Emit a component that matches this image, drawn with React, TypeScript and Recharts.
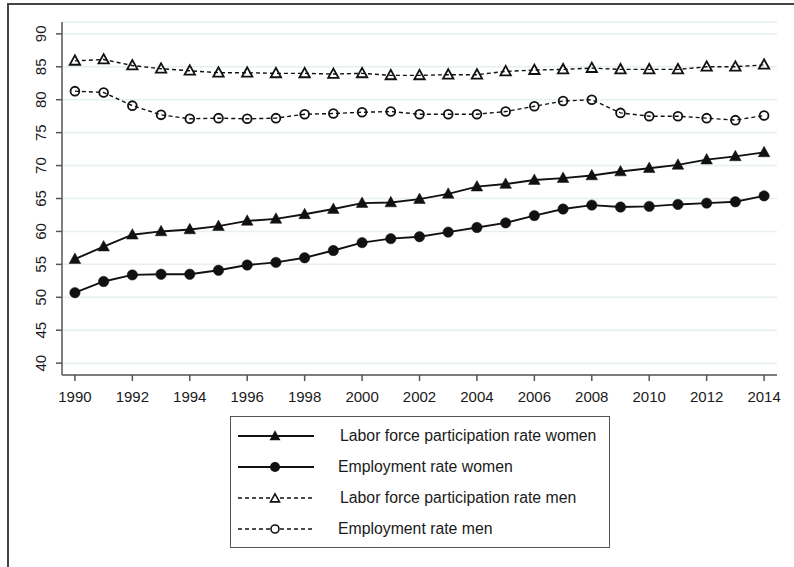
import React from "react";
import { LineChart, Line, XAxis, YAxis, CartesianGrid } from "recharts";

const years = [1990,1991,1992,1993,1994,1995,1996,1997,1998,1999,2000,2001,2002,2003,2004,2005,2006,2007,2008,2009,2010,2011,2012,2013,2014];
const lfpWomen = [55.8,57.7,59.5,60.0,60.3,60.8,61.6,61.9,62.6,63.4,64.3,64.4,64.9,65.7,66.8,67.2,67.8,68.1,68.5,69.1,69.6,70.1,70.9,71.4,72.0];
const empWomen = [50.7,52.4,53.4,53.5,53.5,54.1,54.9,55.3,56.0,57.1,58.3,58.9,59.2,59.9,60.6,61.3,62.4,63.4,64.0,63.7,63.8,64.1,64.3,64.5,65.4];
const lfpMen = [85.9,86.1,85.2,84.7,84.4,84.1,84.1,84.0,84.0,83.9,84.0,83.7,83.7,83.8,83.8,84.3,84.5,84.6,84.8,84.6,84.6,84.6,85.0,85.0,85.3];
const empMen = [81.3,81.1,79.1,77.7,77.1,77.2,77.1,77.2,77.8,77.9,78.1,78.2,77.8,77.8,77.8,78.2,79.0,79.8,80.0,78.0,77.5,77.5,77.2,76.9,77.6];
const xTicks = [1990,1992,1994,1996,1998,2000,2002,2004,2006,2008,2010,2012,2014];
const yTicks = [40,45,50,55,60,65,70,75,80,85,90];
const legendLabels = [
  "Labor force participation rate women",
  "Employment rate women",
  "Labor force participation rate men",
  "Employment rate men",
];

const data = years.map((y, i) => ({
  year: y,
  lfpWomen: lfpWomen[i],
  empWomen: empWomen[i],
  lfpMen: lfpMen[i],
  empMen: empMen[i],
}));

const FONT = "'Liberation Sans', Arial, Helvetica, sans-serif";
const INK = "#111";
const AXIS = "#555";

const triPoints = (cx: number, cy: number, s: number) =>
  `${cx},${cy - s * 1.05} ${cx - s},${cy + s * 0.75} ${cx + s},${cy + s * 0.75}`;

const FilledTri = (p: any) => (
  <polygon key={`ft${p.index}`} points={triPoints(p.cx, p.cy, 5.8)} fill={INK} stroke={INK} strokeWidth={0.5} />
);
const HollowTri = (p: any) => (
  <polygon key={`ht${p.index}`} points={triPoints(p.cx, p.cy, 5.2)} fill="none" stroke={INK} strokeWidth={1.8} />
);
const FilledCirc = (p: any) => (
  <circle key={`fc${p.index}`} cx={p.cx} cy={p.cy} r={5.2} fill={INK} stroke={INK} strokeWidth={0.5} />
);
const HollowCirc = (p: any) => (
  <circle key={`hc${p.index}`} cx={p.cx} cy={p.cy} r={4.4} fill="none" stroke={INK} strokeWidth={1.8} />
);

const YTick = (p: any) => {
  const x = p.x - 8;
  return (
    <text x={x} y={p.y} transform={`rotate(-90 ${x} ${p.y})`} textAnchor="middle" fontSize={15} fontFamily={FONT} fill="#1a1a1a">
      {p.payload.value}
    </text>
  );
};

const XTick = (p: any) => (
  <text x={p.x} y={402} textAnchor="middle" fontSize={15} fontFamily={FONT} fill="#1a1a1a">
    {p.payload.value}
  </text>
);

const LegendSample = ({ idx }: { idx: number }) => {
  const dashed = idx >= 2;
  const cx = 37, cy = 8;
  return (
    <svg width={80} height={16} style={{ display: "block" }}>
      <line x1={0} y1={cy} x2={76} y2={cy} stroke={INK} strokeWidth={dashed ? 1.4 : 2} strokeDasharray={dashed ? "4 3" : undefined} />
      {idx === 0 && <polygon points={triPoints(cx, cy, 5.5)} fill={INK} />}
      {idx === 1 && <circle cx={cx} cy={cy} r={5} fill={INK} />}
      {idx === 2 && <polygon points={triPoints(cx, cy + 0.5, 4.5)} fill="#fff" stroke={INK} strokeWidth={1.6} />}
      {idx === 3 && <circle cx={cx} cy={cy} r={4} fill="#fff" stroke={INK} strokeWidth={1.6} />}
    </svg>
  );
};

export default function App() {
  return (
    <div style={{ position: "absolute", left: 0, top: 0, width: 794, height: 567, background: "#fff", overflow: "hidden" }}>
      <div style={{ position: "absolute", left: 7, top: 3, width: 2, height: 564, background: "#444" }} />
      <div style={{ position: "absolute", left: 7, top: 3, width: 787, height: 2, background: "#444" }} />
      <div style={{ position: "absolute", left: 0, top: 0 }}>
        <LineChart width={794} height={567} data={data} margin={{ top: 22, right: 17, left: 0, bottom: 162 }}>
          <CartesianGrid horizontal={true} vertical={false} stroke="#e6eff2" strokeWidth={1.5} />
          <XAxis
            dataKey="year"
            type="number"
            domain={[1989.55, 2014.45]}
            ticks={xTicks}
            allowDataOverflow
            height={30}
            tickSize={6}
            tickMargin={2}
            stroke={AXIS}
            strokeWidth={1.5}
            tick={<XTick />}
            interval={0}
          />
          <YAxis
            type="number"
            domain={[38.2, 91.8]}
            ticks={yTicks}
            allowDataOverflow
            width={62}
            tickSize={6}
            tickMargin={2}
            stroke={AXIS}
            strokeWidth={1.5}
            tick={<YTick />}
            interval={0}
          />
          <Line dataKey="lfpMen" stroke={INK} strokeWidth={1.4} strokeDasharray="4 3" dot={HollowTri} isAnimationActive={false} />
          <Line dataKey="empMen" stroke={INK} strokeWidth={1.4} strokeDasharray="4 3" dot={HollowCirc} isAnimationActive={false} />
          <Line dataKey="lfpWomen" stroke={INK} strokeWidth={1.9} dot={FilledTri} isAnimationActive={false} />
          <Line dataKey="empWomen" stroke={INK} strokeWidth={1.9} dot={FilledCirc} isAnimationActive={false} />
        </LineChart>
      </div>
      <div
        style={{
          position: "absolute",
          left: 230,
          top: 416,
          width: 378,
          height: 130,
          border: "1.5px solid #555",
          background: "#fff",
          fontFamily: FONT,
          fontSize: 15.8,
          color: "#1a1a1a",
        }}
      >
        {legendLabels.map((lab, i) => (
          <div key={lab} style={{ position: "absolute", left: 7, top: 11 + i * 31, height: 16, display: "flex", alignItems: "center", whiteSpace: "nowrap" }}>
            <LegendSample idx={i} />
            <span style={{ marginLeft: i % 2 === 0 ? 22 : 20, lineHeight: "16px" }}>{lab}</span>
          </div>
        ))}
      </div>
    </div>
  );
}
